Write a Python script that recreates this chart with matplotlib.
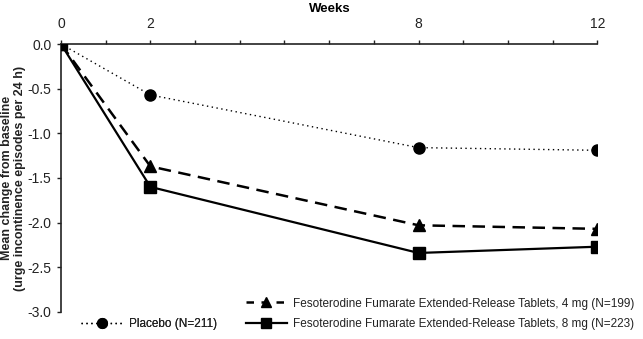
import matplotlib
matplotlib.use("Agg")
import matplotlib.pyplot as plt
from matplotlib.lines import Line2D

plt.rcParams['font.family'] = ['Liberation Sans', 'DejaVu Sans']

weeks = [0, 2, 8, 12]
placebo = [0.0, -0.57, -1.16, -1.19]
fes_4mg = [0.0, -1.37, -2.03, -2.07]
fes_8mg = [0.0, -1.60, -2.34, -2.27]

tick_weeks = [0, 2, 8, 12]
y_ticks = [0.0, -0.5, -1.0, -1.5, -2.0, -2.5, -3.0]

label_placebo = 'Placebo (N=211)'
label_4mg = 'Fesoterodine Fumarate Extended-Release Tablets, 4 mg (N=199)'
label_8mg = 'Fesoterodine Fumarate Extended-Release Tablets, 8 mg (N=223)'

fig = plt.figure(figsize=(6.43, 3.39), dpi=100)
ax = fig.add_axes([0.0949, 0.080, 0.834, 0.790])

ax.plot(weeks, placebo, color='black', linestyle=(0, (1, 2.5)), linewidth=1,
        marker='o', markersize=8, zorder=3)
ax.plot(weeks, fes_4mg, color='black', linestyle=(0, (5, 3)), linewidth=1.8,
        marker='^', markersize=8, zorder=4)
ax.plot(weeks, fes_8mg, color='black', linestyle='-', linewidth=1.6,
        marker='s', markersize=8.5, zorder=5)

ax.set_xlim(0, 12)
ax.set_ylim(-3.0, 0.0)
ax.xaxis.tick_top()
ax.set_xticks(range(0, 13))
ax.set_xticklabels([str(w) if w in tick_weeks else '' for w in range(0, 13)])
ax.set_yticks(y_ticks)
ax.set_yticklabels([f'{v:.1f}' for v in y_ticks])
ax.tick_params(axis='both', labelsize=10, colors='#222222', length=3, width=1)
ax.tick_params(axis='x', pad=6.5)
ax.tick_params(axis='y', pad=4)

for side in ['right', 'bottom']:
    ax.spines[side].set_visible(False)
for side in ['left', 'top']:
    ax.spines[side].set_linewidth(1.2)
    ax.spines[side].set_color('#222222')

fig.text(0.513, 0.972, 'Weeks', ha='center', va='center', fontsize=9.5,
         fontweight='bold')
fig.text(0.021, 0.475,
         'Mean change from baseline\n(urge incontinence episodes per 24 h)',
         rotation=90, ha='center', va='center', fontsize=9,
         fontweight='bold', linespacing=1.1, color='#222222')

h_pl = Line2D([], [], color='black', linestyle=(0, (1, 2.5)), linewidth=1,
              marker='o', markersize=7)
h_4 = Line2D([], [], color='black', linestyle=(0, (3, 3)), linewidth=1.8,
             marker='^', markersize=7)
h_8 = Line2D([], [], color='black', linestyle='-', linewidth=1.6,
             marker='s', markersize=6.5)

leg1 = fig.legend([h_pl], [label_placebo], loc='lower left',
                  bbox_to_anchor=(0.11, -0.006), frameon=False, fontsize=8.5,
                  handlelength=3.5, handletextpad=0.5, labelcolor='#222222')
fig.add_artist(leg1)
fig.legend([h_4, h_8], [label_4mg, label_8mg], loc='lower right',
           bbox_to_anchor=(1.003, -0.006), frameon=False, fontsize=8.5,
           handlelength=3.5, handletextpad=0.5, labelspacing=0.75,
           labelcolor='#222222')

fig.savefig('out.png', dpi=100)
